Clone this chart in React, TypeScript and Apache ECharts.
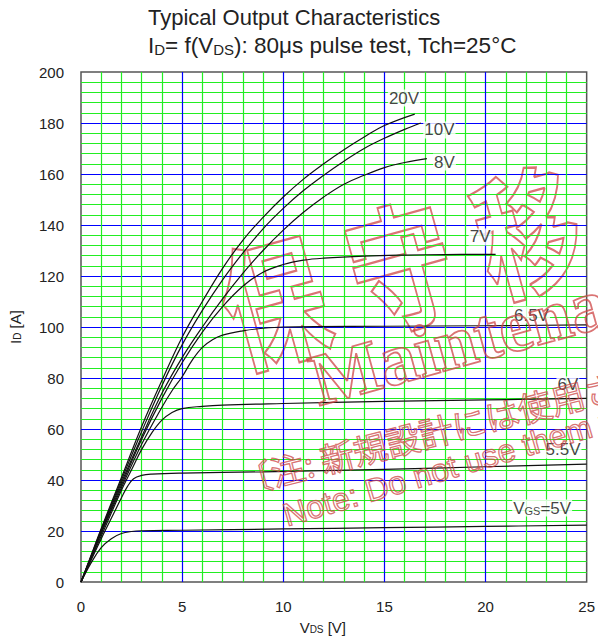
import React, { useEffect, useRef } from 'react';
import * as echarts from 'echarts';

// ---- data: [V_DS (V), I_D (A)] per gate voltage ----
const curve20V = [[0,0],[0.5,10.5],[1,21],[2,41],[3,61],[4,79],[5,96],[6,110],[7,123],[8,134],[9,143],[10,151],[11,158],[12,164],[13,169.5],[14,174.5],[15,179],[16.5,183.5]];
const curve10V = [[0,0],[0.5,10.2],[1,20.5],[2,40],[3,59],[4,77],[5,93],[6,106.5],[7,118.5],[8,129],[9,138.5],[10,146.5],[11,153.5],[12,159.5],[13,165],[14,170],[15,174],[16,177.5],[16.8,180]];
const curve8V = [[0,0],[0.5,10],[1,20],[2,39],[3,57],[4,74],[5,88],[6,100],[7,111],[8,121],[9,130],[10,138],[11,145],[12,151],[13,156],[14,159.5],[15,162.5],[16,164.5],[17.1,166]];
const curve7V = [[0,0],[0.5,9.8],[1,19.5],[2,38],[3,56],[4,72],[5,86],[6,98],[7,108],[8,116],[9,121.5],[10,124.5],[11,126.2],[12,127],[14,127.8],[16,128.2],[18,128.4],[20.5,128.5]];
const curve6V5 = [[0,0],[0.5,9.5],[1,19],[2,37],[3,54],[4,68.5],[4.5,75],[5,80.5],[5.5,87],[6,92],[6.5,95],[7,96.8],[8,98.5],[9,99.5],[10,100],[15,100.3],[20,100.5],[25,100.8]];
const curve6V = [[0,0],[0.5,9],[1,18],[2,36],[2.5,44],[3,52],[3.5,58.5],[4,63.5],[4.5,66.5],[5,68],[6,68.9],[7,69.4],[10,70],[15,70.8],[20,71.4],[25,72]];
const curve5V5 = [[0,0],[0.5,8.5],[1,17],[1.5,25],[2,33],[2.3,37.5],[2.6,40.5],[3,41.8],[3.5,42.3],[5,42.7],[9,43.2],[15,44.2],[20,45.2],[25,46.2]];
const curve5V = [[0,0],[0.5,7.5],[1,13.5],[1.5,17],[2,19],[2.5,19.8],[3,20.1],[5,20.3],[10,20.8],[15,21.3],[20,21.8],[25,22.3]];

const curves = [curve20V, curve10V, curve8V, curve7V, curve6V5, curve6V, curve5V5, curve5V];
const curveNames = ['20V', '10V', '8V', '7V', '6.5V', '6V', '5.5V', '5V'];

// label anchor points (data coordinates) and texts
const labelPoints = [[15.97,189.8],[17.72,177.3],[17.97,164.7],[19.73,135.3],[22.27,104.7],[24.07,77.3],[23.83,51.8],[22.8,29]];
const labelTexts = ['20V', '10V', '8V', '7V', '6.5V', '6V', '5.5V', 'V{s|GS}=5V'];

const xTicks = { min: 0, max: 25, interval: 5 };
const yTicks = { min: 0, max: 200, interval: 20 };

const FONT = '"Liberation Sans", Arial, sans-serif';
const WM = 'rgba(205,70,70,0.75)';

export default function App() {
  const ref = useRef<HTMLDivElement>(null);
  useEffect(() => {
    const chart = echarts.init(ref.current!, null, { renderer: 'svg' });
    const series: any[] = curves.map((c, i) => ({
      type: 'line',
      name: curveNames[i],
      data: c,
      showSymbol: false,
      smooth: 0.4,
      lineStyle: { color: '#111', width: 1.2 },
      z: 3,
    }));
    series.push({
      type: 'scatter',
      symbolSize: 0,
      z: 6,
      data: labelPoints.map((p, i) => ({ value: p, label: { formatter: labelTexts[i] } })),
      label: {
        show: true,
        position: 'inside',
        color: '#111',
        fontSize: 17,
        fontFamily: FONT,
        backgroundColor: '#fff',
        padding: [0, 1],
        rich: { s: { fontSize: 11, fontFamily: FONT, color: '#111', padding: [5, 0, 0, 0] } },
      },
    });

    const rot = 0.27;
    chart.setOption({
      animation: false,
      textStyle: { fontFamily: FONT },
      grid: { left: 77, top: 72, right: 9, bottom: 60, show: true, borderColor: '#555', borderWidth: 1.5, backgroundColor: '#fff' },
      xAxis: {
        type: 'value', ...xTicks,
        axisLine: { show: false }, axisTick: { show: false },
        axisLabel: { fontSize: 15, color: '#222', margin: 17 },
        splitLine: { show: true, showMinLine: false, showMaxLine: false, lineStyle: { color: '#0000ff', width: 1.2 } },
        minorTick: { show: false, splitNumber: 5 },
        minorSplitLine: { show: true, lineStyle: { color: '#22ee22', width: 1.2 } },
        name: 'V{s|DS} [V]', nameLocation: 'middle', nameGap: 38,
        nameTextStyle: { fontSize: 15, color: '#222', padding: [0, 22, 0, 0], rich: { s: { fontSize: 10, color: '#222', padding: [4, 0, 0, 0] } } },
      },
      yAxis: {
        type: 'value', ...yTicks,
        axisLine: { show: false }, axisTick: { show: false },
        axisLabel: { fontSize: 15, color: '#222', margin: 17 },
        splitLine: { show: true, showMinLine: false, showMaxLine: false, lineStyle: { color: '#0000ff', width: 1.2 } },
        minorTick: { show: false, splitNumber: 5 },
        minorSplitLine: { show: true, lineStyle: { color: '#22ee22', width: 1.2 } },
        name: 'I{s|D} [A]', nameLocation: 'middle', nameGap: 58, nameRotate: 90,
        nameTextStyle: { fontSize: 15, color: '#222', rich: { s: { fontSize: 10, color: '#222', padding: [4, 0, 0, 0] } } },
      },
      series,
      graphic: [
        { type: 'text', left: 148, top: 6, style: { text: 'Typical Output Characteristics', font: `22px ${FONT}`, fill: '#222' } },
        { type: 'text', left: 148, top: 34, style: {
          text: 'I{s|D}= f(V{s|DS}): 80μs pulse test, Tch=25°C', font: `22.5px ${FONT}`, fill: '#222',
          rich: { s: { fontSize: 15, fontFamily: FONT, fill: '#222', padding: [7, 0, 0, 0] } } } },
        // watermark
        { type: 'group', x: 272, y: 296, rotation: rot, z: 100, children: ['保', '守', '移', '行'].map((ch, i) => ({
          type: 'text', x: i * 132, y: 0, scaleX: 0.76,
          style: { text: ch, font: `bold 136px "Noto Sans CJK JP"`, fill: 'rgba(0,0,0,0)', stroke: WM, lineWidth: 2.3,
            align: 'center', verticalAlign: 'middle', textAlign: 'center', textVerticalAlign: 'middle' },
        })) },
        { type: 'text', x: 312, y: 382, rotation: rot, z: 100, style: {
          text: 'Maintenance', font: `bold 74px "Liberation Serif"`, fill: 'rgba(0,0,0,0)', stroke: WM, lineWidth: 1.8,
          align: 'left', verticalAlign: 'middle', textAlign: 'left', textVerticalAlign: 'middle' } },
        { type: 'text', x: 238, y: 481, rotation: rot - 0.02, z: 100, style: {
          text: '〔注: 新規設計には使用されないようお願いします〕', font: `34px "Noto Sans CJK JP"`, fill: 'rgba(0,0,0,0)', stroke: WM, lineWidth: 1.3,
          align: 'left', verticalAlign: 'middle', textAlign: 'left', textVerticalAlign: 'middle' } },
        { type: 'text', x: 284, y: 516, rotation: 0.285, z: 100, style: {
          text: 'Note: Do not use them for new design', font: `32px "Liberation Sans"`, fill: 'rgba(0,0,0,0)', stroke: WM, lineWidth: 1.3,
          align: 'left', verticalAlign: 'middle', textAlign: 'left', textVerticalAlign: 'middle' } },
      ],
    });
    return () => chart.dispose();
  }, []);
  return <div ref={ref} style={{ position: 'absolute', left: 0, top: 0, width: 598, height: 642 }} />;
}
